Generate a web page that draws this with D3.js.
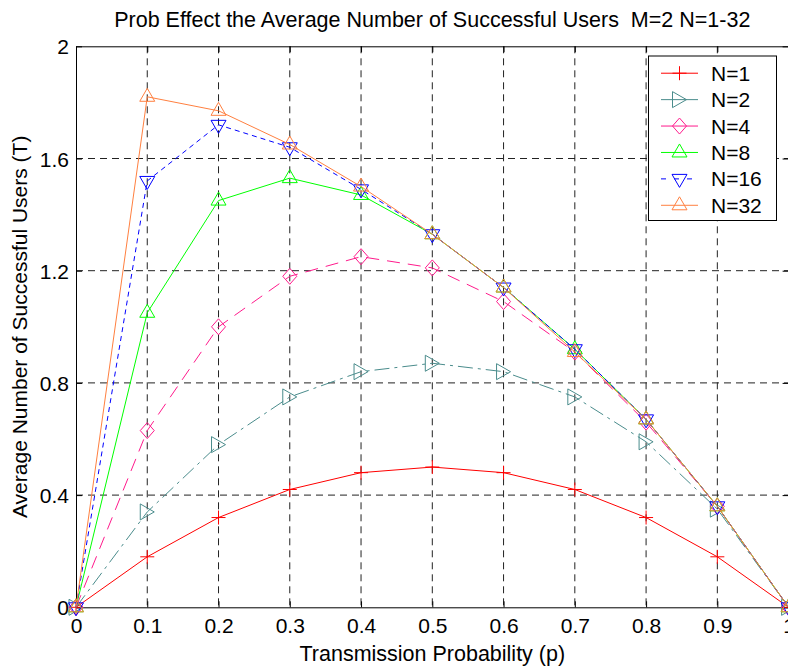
<!DOCTYPE html>
<html>
<head>
<meta charset="utf-8">
<script src="https://cdn.jsdelivr.net/npm/d3@7"></script>
<style>
  body { margin: 0; background: #fff; }
  svg { display: block; font-family: "Liberation Sans", Arial, sans-serif; }
</style>
</head>
<body>
<script>
// probability values on the x axis
const probs = [0, 0.1, 0.2, 0.3, 0.4, 0.5, 0.6, 0.7, 0.8, 0.9, 1];

// average number of successful users
const n1  = [0, 0.18, 0.32, 0.42, 0.48, 0.50, 0.48, 0.42, 0.32, 0.18, 0];
const n2  = [0, 0.34, 0.58, 0.75, 0.84, 0.87, 0.84, 0.75, 0.59, 0.35, 0];
const n4  = [0, 0.63, 1.00, 1.18, 1.25, 1.21, 1.09, 0.91, 0.66, 0.36, 0];
const n8  = [0, 1.05, 1.45, 1.53, 1.47, 1.33, 1.14, 0.92, 0.67, 0.36, 0];
const n16 = [0, 1.52, 1.72, 1.64, 1.49, 1.33, 1.14, 0.92, 0.67, 0.36, 0];
const n32 = [0, 1.82, 1.77, 1.65, 1.50, 1.33, 1.14, 0.91, 0.67, 0.36, 0];

const seriesNames = ['N=1', 'N=2', 'N=4', 'N=8', 'N=16', 'N=32'];
const xTicks = [0, 0.1, 0.2, 0.3, 0.4, 0.5, 0.6, 0.7, 0.8, 0.9, 1];
const yTicks = [0, 0.4, 0.8, 1.2, 1.6, 2];

const [w, h] = [788, 666];
const [padL, padR, padT, padB] = [76, 788.6, 46.3, 607.3];

// look of each series (matlab-like styles)
const styles = [
  { color: '#ff0000', dash: null,          marker: 'plus' },
  { color: '#4a8c8c', dash: '15,5,3,5',    marker: 'right' },
  { color: '#ff1a8c', dash: '13,8',        marker: 'diamond' },
  { color: '#00ff00', dash: null,          marker: 'up' },
  { color: '#0000ff', dash: '5,4',         marker: 'down' },
  { color: '#ff8040', dash: null,          marker: 'up' }
];

const markerPaths = {
  plus: 'M-7,0H7M0,-7V7',
  right: 'M-7,-8L7,0L-7,8Z',
  diamond: 'M0,-8L7,0L0,8L-7,0Z',
  up: 'M0,-8.5L7.5,4.5L-7.5,4.5Z',
  down: 'M0,8.5L7.5,-4.5L-7.5,-4.5Z'
};

const data = [n1, n2, n4, n8, n16, n32].map((vals, i) => ({
  name: seriesNames[i],
  style: styles[i],
  points: vals.map((v, j) => ({ p: probs[j], t: v }))
}));

const svg = d3.select('body')
  .append('svg')
  .attr('width', w)
  .attr('height', h);

const x = d3.scaleLinear().domain([0, 1]).range([padL, padR]);
const y = d3.scaleLinear().domain([0, 2]).range([padB, padT]);

// grid
const grid = svg.append('g').attr('class', 'grid');
grid.selectAll('.vgrid')
  .data(xTicks.slice(1, -1))
  .enter().append('line')
  .attr('x1', d => x(d)).attr('x2', d => x(d))
  .attr('y1', padT).attr('y2', padB);
grid.selectAll('.hgrid')
  .data(yTicks.slice(1, -1))
  .enter().append('line')
  .attr('x1', padL).attr('x2', padR)
  .attr('y1', d => y(d)).attr('y2', d => y(d));
grid.selectAll('line')
  .attr('stroke', '#222')
  .attr('stroke-width', 1)
  .attr('stroke-dasharray', '7,5');

// axes, ticks pointing inwards
const fmt = d => String(d);
const xAxis = svg.append('g')
  .attr('transform', `translate(0,${padB})`)
  .call(d3.axisBottom(x).tickValues(xTicks).tickFormat(fmt).tickSizeInner(-6).tickSizeOuter(0).tickPadding(11));
const yAxis = svg.append('g')
  .attr('transform', `translate(${padL},0)`)
  .call(d3.axisLeft(y).tickValues(yTicks).tickFormat(fmt).tickSizeInner(-6).tickSizeOuter(0).tickPadding(7));
svg.append('g')
  .attr('transform', `translate(0,${padT})`)
  .call(d3.axisTop(x).tickValues(xTicks).tickFormat('').tickSizeInner(-6).tickSizeOuter(0));
svg.append('g')
  .attr('transform', `translate(${padR},0)`)
  .call(d3.axisRight(y).tickValues(yTicks).tickFormat('').tickSizeInner(-6).tickSizeOuter(0));

svg.selectAll('.domain').attr('stroke', '#000');
svg.selectAll('.tick line').attr('stroke', '#000');
svg.selectAll('.tick text')
  .attr('font-size', 21)
  .attr('font-family', '"Liberation Sans", Arial, sans-serif')
  .attr('fill', '#000');
yAxis.selectAll('.tick text').attr('dy', '0.36em');

// series lines
const line = d3.line().x(d => x(d.p)).y(d => y(d.t));

const series = svg.selectAll('.series')
  .data(data)
  .enter().append('g')
  .attr('class', 'series');

series.append('path')
  .attr('d', d => line(d.points))
  .attr('fill', 'none')
  .attr('stroke', d => d.style.color)
  .attr('stroke-width', 1)
  .attr('stroke-dasharray', d => d.style.dash);

series.selectAll('.marker')
  .data(d => d.points.map(pt => ({ ...pt, style: d.style })))
  .enter().append('path')
  .attr('class', 'marker')
  .attr('transform', d => `translate(${x(d.p)},${y(d.t)})`)
  .attr('d', d => markerPaths[d.style.marker])
  .attr('fill', 'none')
  .attr('stroke', d => d.style.color)
  .attr('stroke-width', 1);

// title and axis labels
svg.append('text')
  .attr('x', (padL + padR) / 2)
  .attr('y', 27)
  .attr('text-anchor', 'middle')
  .attr('font-size', 21.5)
  .text('Prob Effect the Average Number of Successful Users\u00a0\u00a0M=2 N=1-32');

svg.append('text')
  .attr('x', (padL + padR) / 2)
  .attr('y', 661)
  .attr('text-anchor', 'middle')
  .attr('font-size', 21.5)
  .text('Transmission Probability (p)');

svg.append('text')
  .attr('transform', `translate(27,${(padT + padB) / 2}) rotate(-90)`)
  .attr('text-anchor', 'middle')
  .attr('font-size', 21)
  .text('Average Number of Successful Users (T)');

// legend
const legend = svg.append('g').attr('id', 'legend');
legend.append('rect')
  .attr('x', 648.5).attr('y', 56)
  .attr('width', 128).attr('height', 164.5)
  .attr('fill', '#fff')
  .attr('stroke', '#000')
  .attr('stroke-width', 1);

const rowY = d3.scaleBand().domain(seriesNames).range([60, 218.5]);

const rows = legend.selectAll('.row')
  .data(data)
  .enter().append('g')
  .attr('transform', d => `translate(0,${rowY(d.name) + rowY.bandwidth() / 2})`);

rows.append('line')
  .attr('x1', 661).attr('x2', 698)
  .attr('stroke', d => d.style.color)
  .attr('stroke-dasharray', d => d.style.dash === '5,4' ? '5,8' : null);

rows.append('path')
  .attr('transform', 'translate(679.5,0)')
  .attr('d', d => markerPaths[d.style.marker])
  .attr('fill', 'none')
  .attr('stroke', d => d.style.color);

rows.append('text')
  .attr('x', 711)
  .attr('dy', '0.36em')
  .attr('font-size', 21)
  .text(d => d.name);
</script>
</body>
</html>
